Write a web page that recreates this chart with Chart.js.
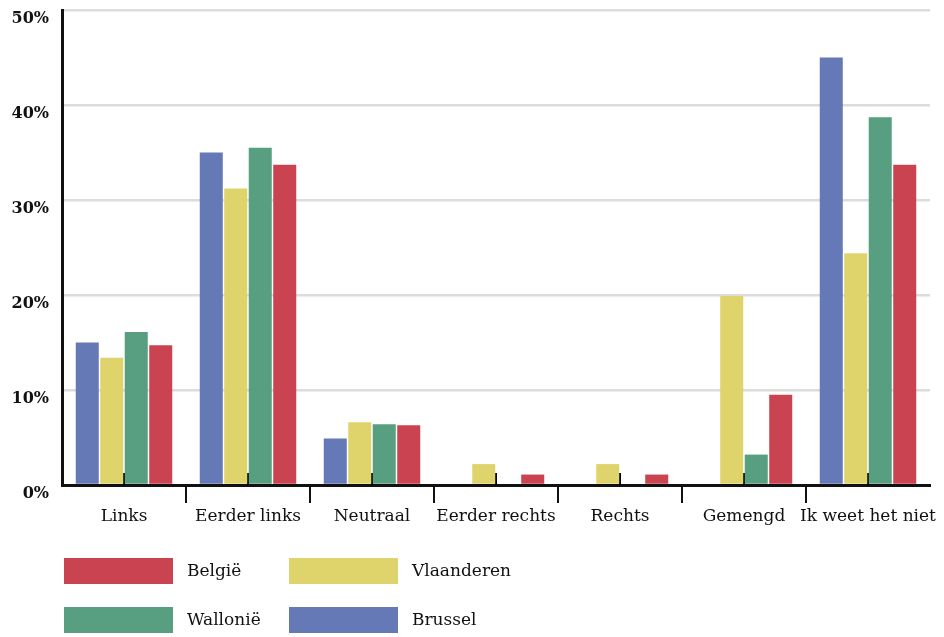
<!DOCTYPE html>
<html>
<head>
<meta charset="utf-8">
<script src="https://cdn.jsdelivr.net/npm/chart.js@4/dist/chart.umd.min.js"></script>
<style>
  html, body { margin: 0; padding: 0; background: #ffffff; }
  #wrap { width: 944px; height: 637px; position: relative; }
</style>
</head>
<body>
<div id="wrap"><canvas id="c" width="944" height="637"></canvas></div>
<script>
const categories = ['Links', 'Eerder links', 'Neutraal', 'Eerder rechts', 'Rechts', 'Gemengd', 'Ik weet het niet'];
const seriesNames = ['Brussel', 'Vlaanderen', 'Wallonië', 'België'];
const brussel    = [15.0, 35.0, 4.9, 0,   0,   0,    45.0];
const vlaanderen = [13.4, 31.2, 6.6, 2.2, 2.2, 19.9, 24.4];
const wallonie   = [16.1, 35.5, 6.4, 0,   0,   3.2,  38.7];
const belgie     = [14.7, 33.7, 6.3, 1.1, 1.1, 9.5,  33.7];
const yTicks = [0, 10, 20, 30, 40, 50];
const legendOrder = ['België', 'Vlaanderen', 'Wallonië', 'Brussel'];

const colors = {
  'Brussel': '#6679b7',
  'Vlaanderen': '#dfd46c',
  'Wallonië': '#579f80',
  'België': '#c94350'
};
const FONT = "'DejaVu Serif', serif";

const centerTicks = {
  id: 'centerTicks',
  beforeDatasetsDraw(chart) {
    const x = chart.scales.x, y = chart.scales.y;
    const ctx = chart.ctx;
    const y0 = y.getPixelForValue(0);
    ctx.save();
    ctx.strokeStyle = '#000';
    ctx.lineWidth = 2;
    categories.forEach((c, i) => {
      const px = x.getPixelForValue(i);
      ctx.beginPath();
      ctx.moveTo(px, y0);
      ctx.lineTo(px, y0 - 12);
      ctx.stroke();
    });
    ctx.restore();
  }
};

const gridLegend = {
  id: 'gridLegend',
  afterDraw(chart) {
    const ctx = chart.ctx;
    const colX = [64, 289];
    const rowY = [558, 607];
    ctx.save();
    ctx.font = "17px " + FONT;
    ctx.textBaseline = 'middle';
    ctx.fillStyle = '#111';
    legendOrder.forEach((name, k) => {
      const ds = chart.data.datasets.find(d => d.label === name);
      const bx = colX[k % 2], by = rowY[Math.floor(k / 2)];
      ctx.fillStyle = ds.backgroundColor;
      ctx.fillRect(bx, by, 109, 26);
      ctx.fillStyle = '#111';
      ctx.fillText(ds.label, bx + 123, by + 14);
    });
    ctx.restore();
  }
};

const seriesData = { 'Brussel': brussel, 'Vlaanderen': vlaanderen, 'Wallonië': wallonie, 'België': belgie };

new Chart(document.getElementById('c'), {
  type: 'bar',
  data: {
    labels: categories,
    datasets: seriesNames.map(n => ({
      label: n,
      data: seriesData[n],
      backgroundColor: colors[n],
      borderWidth: 0,
      categoryPercentage: 0.79,
      barPercentage: 0.94
    }))
  },
  options: {
    responsive: false,
    animation: false,
    devicePixelRatio: 1,
    layout: { padding: { top: 10, right: 14, bottom: 102, left: 0 } },
    plugins: {
      legend: { display: false },
      tooltip: { enabled: false }
    },
    scales: {
      x: {
        z: 1,
        grid: {
          offset: true,
          drawOnChartArea: false,
          drawTicks: true,
          tickLength: 18,
          lineWidth: 2,
          tickColor: (c) => (c.type !== 'tick' || c.index === 0) ? 'rgba(0,0,0,0)' : '#111',
          color: 'rgba(0,0,0,0)'
        },
        border: { display: true, color: '#111', width: 3 },
        ticks: {
          color: '#111',
          font: { family: FONT, size: 17 },
          padding: 3,
          maxRotation: 0,
          autoSkip: false
        },
        afterFit(s) { s.height = 50; s.paddingLeft = 0; s.paddingRight = 0; }
      },
      y: {
        min: 0,
        max: 50,
        afterBuildTicks(s) { s.ticks = yTicks.map(v => ({ value: v })); },
        grid: {
          color: '#dcdcdc',
          lineWidth: 2.5,
          drawTicks: false
        },
        border: { display: true, color: '#111', width: 3 },
        ticks: {
          color: '#111',
          font: { family: FONT, size: 16, weight: 'bold' },
          padding: 13,
          labelOffset: 9,
          callback: v => v + '%'
        },
        afterFit(s) { s.width = 62; s.paddingTop = 0; s.paddingBottom = 0; }
      }
    }
  },
  plugins: [centerTicks, gridLegend]
});
</script>
</body>
</html>
